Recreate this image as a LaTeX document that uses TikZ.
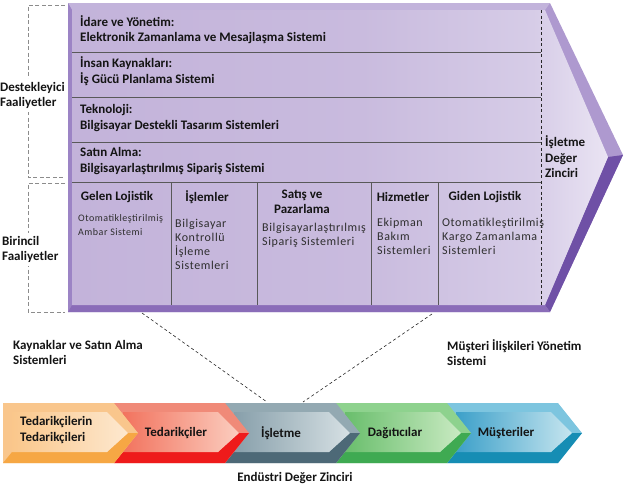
\documentclass[tikz,border=0pt]{standalone}
\usepackage{fontspec}
\setmainfont{Carlito}
\newfontfamily\ince[LetterSpace=5]{Carlito}
\usetikzlibrary{positioning}

% mor zincir
\definecolor{moU}{HTML}{AE99CF}
\definecolor{moT}{HTML}{C2B3DB}
\definecolor{moS}{HTML}{9C84C5}
\definecolor{moD}{HTML}{8A6CB8}
\definecolor{moK}{HTML}{6F50A6}
\definecolor{moA}{HTML}{C3B3DA}
\definecolor{moM}{HTML}{C9BBDE}
\definecolor{moC}{HTML}{D6CCE7}
\definecolor{moB}{HTML}{EAE4F3}
\pgfdeclarehorizontalshading{morgecis}{100bp}{color(0bp)=(moA); color(25bp)=(moA);
  color(52bp)=(moM); color(68bp)=(moC); color(75bp)=(moB); color(100bp)=(moB)}
% endustri zinciri
\definecolor{orU}{HTML}{F9C68C}
\definecolor{orA}{HTML}{FAC78B}
\definecolor{orB}{HTML}{FDE8CF}
\definecolor{orD}{HTML}{F6A744}
\definecolor{kiU}{HTML}{F08A78}
\definecolor{kiA}{HTML}{F2735E}
\definecolor{kiB}{HTML}{FBCDBF}
\definecolor{kiD}{HTML}{EE1B1B}
\definecolor{grU}{HTML}{93A9B2}
\definecolor{grA}{HTML}{879FAA}
\definecolor{grB}{HTML}{D6E0E4}
\definecolor{grD}{HTML}{4D6977}
\definecolor{yeU}{HTML}{8ED28E}
\definecolor{yeA}{HTML}{69BE6C}
\definecolor{yeB}{HTML}{C9EAC2}
\definecolor{yeD}{HTML}{3FAA52}
\definecolor{maU}{HTML}{7DC5DF}
\definecolor{maA}{HTML}{3CA0C9}
\definecolor{maB}{HTML}{C6E5EF}
\definecolor{maD}{HTML}{168DB4}

\begin{document}
\begin{tikzpicture}[x=1pt,y=-1pt]
\tikzstyle{every node}=[font=\fontsize{13}{15.5}\selectfont\bfseries, inner sep=0pt, text=black!92]
\tikzstyle{satir}=[align=left, anchor=west]
\tikzstyle{govde}=[font=\ince\fontsize{12}{14}\selectfont, text=black!82, align=left, anchor=west]
\tikzstyle{ayrac}=[draw=black!65, line width=0.8pt]
\tikzstyle{kose}=[draw=black!45, line width=0.8pt, dash pattern=on 4pt off 2.5pt]
\tikzstyle{bag}=[draw=black!85, line width=0.6pt, dash pattern=on 3pt off 2.5pt]
\useasboundingbox (0,0) rectangle (625,491);

% isletme deger zinciri
\fill[moU] (68,3) -- (550,3) -- (623,155) -- (550,312) -- (68,312) -- cycle;
\fill[moT] (68,3) -- (550,3) -- (545,10) -- (72,10) -- cycle;
\fill[moS] (68,3) -- (72,10) -- (72,305) -- (68,312) -- cycle;
\fill[moK] (545,305) -- (608,157) -- (623,155) -- (550,312) -- cycle;
\fill[moD] (68,312) -- (72,305) -- (545,305) -- (550,312) -- cycle;
\shade[shading=morgecis]
  (72,10) -- (545,10) -- (608,157) -- (545,305) -- (72,305) -- cycle;
\foreach \y in {52,97,142,182}
  \draw[ayrac] (72,\y) -- (541,\y);
\foreach \x in {171,257,371,438}
  \draw[ayrac] (\x,182) -- (\x,305);
\draw[bag] (541,10) -- (541,305);

\node[satir] (idare) at (80,29.5) {İdare ve Yönetim:\\Elektronik Zamanlama ve Mesajlaşma Sistemi};
\node[satir] (insan) at (80,71) {İnsan Kaynakları:\\İş Gücü Planlama Sistemi};
\node[satir] (tekno) at (80,118) {Teknoloji:\\Bilgisayar Destekli Tasarım Sistemleri};
\node[satir] (satin) at (80,161) {Satın Alma:\\Bilgisayarlaştırılmış Sipariş Sistemi};

\node (gelen) at (117,197) {Gelen Lojistik};
\node (islem) at (207,197) {İşlemler};
\node[align=center] (satis) at (302,202) {Satış ve\\Pazarlama};
\node (hizmet) at (403,197) {Hizmetler};
\node (giden) at (485,197) {Giden Lojistik};

\node[govde, font=\ince\fontsize{10}{13.5}\selectfont] (gelenS) at (78,225) {Otomatikleştirilmiş\\Ambar Sistemi};
\node[govde] (islemS) at (175,244) {Bilgisayar\\Kontrollü\\İşleme\\Sistemleri};
\node[govde] (satisS) at (262,235) {Bilgisayarlaştırılmış\\Sipariş Sistemleri};
\node[govde] (hizmetS) at (377,236) {Ekipman\\Bakım\\Sistemleri};
\node[govde] (gidenS) at (442,236) {Otomatikleştirilmiş\\Kargo Zamanlama\\Sistemleri};

\node[satir] (isletmeDZ) at (545,157) {İşletme\\Değer\\Zinciri};

% faaliyet gruplari
\draw[kose] (65,5) -- (28,5) -- (28,177) -- (65,177);
\draw[kose] (65,183) -- (28,183) -- (28,312) -- (65,312);
\node[satir, fill=white, inner ysep=3pt] (destek) at (0,95.5) {Destekleyici\\Faaliyetler};
\node[satir, fill=white, inner ysep=3pt] (birincil) at (2,249.5) {Birincil\\Faaliyetler};

% bag cizgileri
\coordinate (kutuSol) at (142,313);
\coordinate (kutuSag) at (432,314);
\coordinate (isSol) at (267,402);
\coordinate (isSag) at (303,402);
\draw[bag] (kutuSol) -- (isSol);
\draw[bag] (kutuSag) -- (isSag);

\node[satir] (kaynak) at (13,352.5) {Kaynaklar ve Satın Alma\\Sistemleri};
\node[satir] (musteriIY) at (447,352.5) {Müşteri İlişkileri Yönetim\\Sistemi};

% endustri deger zinciri
\foreach \i/\cu/\fa/\fb/\cd in {4/maU/maA/maB/maD, 3/yeU/yeA/yeB/yeD,
    2/grU/grA/grB/grD, 1/kiU/kiA/kiB/kiD, 0/orU/orA/orB/orD} {
  \pgfmathsetmacro\L{3+111*\i}
  \pgfmathsetmacro\R{114+111*\i}
  \pgfmathsetmacro\T{138+111*\i}
  \fill[\cu] (\L,403) -- (\R,403) -- (\T,433) -- (\R,463) -- (\L,463) -- cycle;
  \fill[\cd] (\L,463) -- (\L+9,452) -- (\R-7,452) -- (\T-10,433) -- (\T,433) -- (\R,463) -- cycle;
  \shade[left color=\fa, right color=\fb]
    (\L+9,412) -- (\R-7,412) -- (\T-10,433) -- (\R-7,452) -- (\L+9,452) -- cycle;
}
\node[satir] (tedTed) at (20,430) {Tedarikçilerin\\Tedarikçileri};
\node (ted) at (176,433) {Tedarikçiler};
\node (isletme) at (281,433) {İşletme};
\node (dagitici) at (395,433) {Dağıtıcılar};
\node (musteri) at (506,433) {Müşteriler};
\node (endustri) at (295,478) {Endüstri Değer Zinciri};
\end{tikzpicture}
\end{document}
